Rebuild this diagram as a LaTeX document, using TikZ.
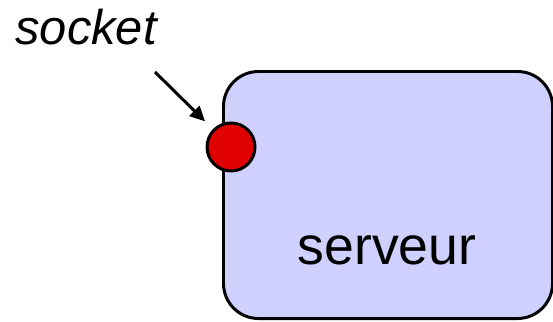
\documentclass[tikz,border=0pt]{standalone}
\usepackage{fontspec}
\setmainfont{Liberation Sans}
\usetikzlibrary{arrows.meta}
\definecolor{boxfill}{RGB}{208,208,255}
\definecolor{sockred}{RGB}{224,0,0}

\begin{document}
\begin{tikzpicture}[>={Triangle[length=0.3cm,width=0.28cm]}, line width=1.7pt]
\useasboundingbox (0,0) rectangle (11.06,6.44);
% server box
\node[draw, fill=boxfill, rounded corners=0.7cm, minimum width=6.58cm, minimum height=4.94cm, anchor=south west, inner sep=0] (srv) at (4.44,0.04) {};
\node[anchor=base, inner sep=0, font=\fontsize{30.5}{36}\selectfont] (srvlabel) at (7.74,1.14) {serveur};
% socket
\node[circle, draw, fill=sockred, minimum size=0.96cm, inner sep=0] (sock) at (4.62,3.5) {};
\node[anchor=base west, inner sep=0, font=\fontsize{27.8}{33}\selectfont\itshape] (socklabel) at (0.28,5.54) {socket};
% arrow
\coordinate (arrowstart) at (3.1,5.0);
\draw[->, shorten >=0.22cm] (arrowstart) -- (sock);
\end{tikzpicture}
\end{document}
